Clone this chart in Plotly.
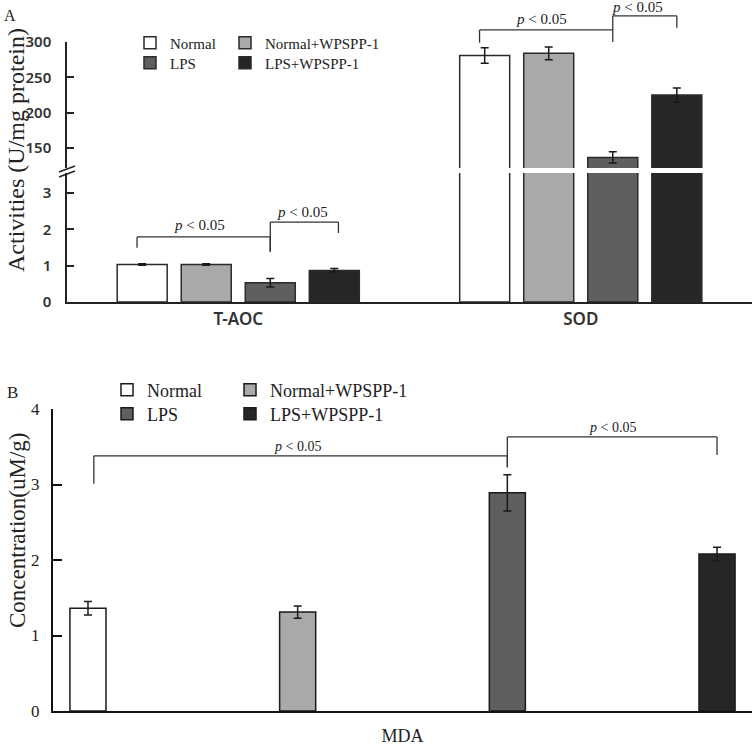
import plotly.graph_objects as go

# ---------------- data ----------------
groups = ["Normal", "Normal+WPSPP-1", "LPS", "LPS+WPSPP-1"]

a_categories = ["T-AOC", "SOD"]
a_normal = [1.03, 281]
a_normal_wpspp = [1.03, 284]
a_lps = [0.53, 137]
a_lps_wpspp = [0.87, 225]
a_err_normal = [0.02, 11]
a_err_normal_wpspp = [0.02, 9]
a_err_lps = [0.12, 8]
a_err_lps_wpspp = [0.05, 10]

b_categories = ["MDA"]
b_normal = [1.36]
b_normal_wpspp = [1.31]
b_lps = [2.89]
b_lps_wpspp = [2.08]
b_err_normal = [0.09]
b_err_normal_wpspp = [0.08]
b_err_lps = [0.24]
b_err_lps_wpspp = [0.09]

a_ticks_lower = [0, 1, 2, 3]
a_ticks_upper = [150, 200, 250, 300]
b_ticks = [0, 1, 2, 3, 4]

# ---------------- style / layout helpers ----------------
W, H = 756, 746
def px(x):
    return x / W
def py(y):
    return 1 - y / H

colors = ["#ffffff", "#a9a9a9", "#5f5f5f", "#262626"]
edge = "#2b2b2b"
serif = "Liberation Serif, Times New Roman, serif"
sans = "Noto Sans, Open Sans, sans-serif"

a_vals = [a_normal, a_normal_wpspp, a_lps, a_lps_wpspp]
a_errs = [a_err_normal, a_err_normal_wpspp, a_err_lps, a_err_lps_wpspp]
b_vals = [b_normal, b_normal_wpspp, b_lps, b_lps_wpspp]
b_errs = [b_err_normal, b_err_normal_wpspp, b_err_lps, b_err_lps_wpspp]

# bar geometry (category units)
a_slot, a_width = 0.187, 0.146
a_centers = [(i - 1.5) * a_slot for i in range(4)]
b_slot, b_width = 0.25, 0.043
b_centers = [(i - 1.5) * b_slot for i in range(4)]

A_LOW_RANGE = [0, 3.55]
A_UP_RANGE = [122, 300]
B_RANGE = [0, 4]

fig = go.Figure()

for i, g in enumerate(groups):
    common = dict(
        name=g,
        width=a_width,
        offset=a_centers[i] - a_width / 2,
        marker=dict(color=colors[i], line=dict(color=edge, width=1.5)),
        error_y=dict(type="data", array=a_errs[i], color="#1a1a1a", thickness=1.5, width=4),
        hoverinfo="skip",
    )
    fig.add_trace(go.Bar(x=a_categories, y=a_vals[i], xaxis="x", yaxis="y",
                         legend="legend" if i == 0 else f"legend{i+1}", **common))
    fig.add_trace(go.Bar(x=a_categories, y=a_vals[i], xaxis="x", yaxis="y2",
                         showlegend=False, **common))

for i, g in enumerate(groups):
    fig.add_trace(go.Bar(
        x=b_categories, y=b_vals[i], name=g,
        width=b_width, offset=b_centers[i] - b_width / 2,
        marker=dict(color=colors[i], line=dict(color="#1a1a1a", width=1.5)),
        error_y=dict(type="data", array=b_errs[i], color="#1a1a1a", thickness=1.5, width=4),
        xaxis="x3", yaxis="y3", legend=f"legend{i+5}", hoverinfo="skip",
    ))

axis_common = dict(showgrid=False, zeroline=False, showline=True, fixedrange=True, automargin=False)

fig.update_layout(
    width=W, height=H,
    margin=dict(l=0, r=0, t=0, b=0, autoexpand=False),
    paper_bgcolor="white", plot_bgcolor="white",
    barmode="group",
    showlegend=True,
    xaxis=dict(domain=[px(67), px(752)], anchor="y", range=[-0.5, 1.5],
               linecolor="#222", linewidth=1.5, ticks="", ticklabelstandoff=1,
               tickfont=dict(family=sans, size=17, color="#333", weight=600),
               **axis_common),
    yaxis=dict(domain=[py(302), py(173)], anchor="x", range=A_LOW_RANGE,
               tickvals=a_ticks_lower, ticks="inside", ticklen=7, tickwidth=1.5,
               tickcolor="#222", linecolor="#222", linewidth=1.5, ticklabelstandoff=11,
               tickfont=dict(family=sans, size=15, color="#333", weight=600),
               **axis_common),
    yaxis2=dict(domain=[py(168), py(42)], anchor="x", range=A_UP_RANGE,
                tickvals=a_ticks_upper, ticks="inside", ticklen=7, tickwidth=1.5,
                tickcolor="#222", linecolor="#222", linewidth=1.5, ticklabelstandoff=11,
                tickfont=dict(family=sans, size=15, color="#333", weight=600),
                **axis_common),
    xaxis3=dict(domain=[px(53), px(752)], anchor="y3", range=[-0.4167, 0.4167],
                linecolor="#111", linewidth=2, ticks="", ticklabelstandoff=7,
                tickfont=dict(family=serif, size=18, color="#222"),
                **axis_common),
    yaxis3=dict(domain=[py(711), py(409)], anchor="x3", range=B_RANGE,
                tickvals=b_ticks, ticks="inside", ticklen=9, tickwidth=2,
                tickcolor="#111", linecolor="#111", linewidth=2, ticklabelstandoff=8,
                tickfont=dict(family=serif, size=17, color="#222"),
                **axis_common),
)

# legends: one per entry, arranged as a 2x2 grid (positions = text start, row centre)
leg_a = [(170, 43), (265, 43), (170, 63), (265, 63)]
leg_b = [(147, 390), (270, 390), (147, 414), (270, 414)]
for i in range(4):
    key = "legend" if i == 0 else f"legend{i+1}"
    fig.update_layout({key: dict(x=px(leg_a[i][0] - 40), y=py(leg_a[i][1]), xanchor="left",
                                 yanchor="middle", bgcolor="rgba(0,0,0,0)", borderwidth=0,
                                 font=dict(family=serif, size=15, color="#222"))})
    fig.update_layout({f"legend{i+5}": dict(x=px(leg_b[i][0] - 40), y=py(leg_b[i][1]), xanchor="left",
                                            yanchor="middle", bgcolor="rgba(0,0,0,0)", borderwidth=0,
                                            font=dict(family=serif, size=18, color="#222"))})

line_style = dict(color="#333", width=1.3)

def up_dom(v):
    return (v - A_UP_RANGE[0]) / (A_UP_RANGE[1] - A_UP_RANGE[0])

def bracket(xref, yref, xl, xr, top, yl, yr, conv=lambda v: v):
    shapes = [
        dict(type="line", xref=xref, yref=yref, x0=xl, x1=xl, y0=conv(yl), y1=conv(top), line=line_style),
        dict(type="line", xref=xref, yref=yref, x0=xl, x1=xr, y0=conv(top), y1=conv(top), line=line_style),
        dict(type="line", xref=xref, yref=yref, x0=xr, x1=xr, y0=conv(top), y1=conv(yr), line=line_style),
    ]
    for s in shapes:
        fig.add_shape(**s)

# Panel A T-AOC brackets (category index 0)
bracket("x", "y", 0 + a_centers[0] - 0.015, 0 + a_centers[2], 1.79, 1.49, 1.38)
bracket("x", "y", 0 + a_centers[2], 0 + a_centers[3] + 0.012, 2.20, 1.38, 1.90)
# Panel A SOD brackets (category index 1), above the upper axis top
bracket("x", "y2 domain", 1 + a_centers[0] - 0.015, 1 + a_centers[2], 317, 299, 300, up_dom)
bracket("x", "y2 domain", 1 + a_centers[2], 1 + a_centers[3], 337, 317, 320, up_dom)
# Panel B brackets
bracket("x3", "y3", b_centers[0] + 0.007, b_centers[2], 3.38, 3.01, 3.23)
bracket("x3", "y3", b_centers[2], b_centers[3], 3.63, 3.23, 3.39)

ptxt = "<i>p</i> < 0.05"
ann = [
    dict(x=(a_centers[0] + a_centers[2]) / 2 - 0.02, y=2.12, xref="x", yref="y", size=15),
    dict(x=(a_centers[2] + a_centers[3]) / 2, y=2.48, xref="x", yref="y", size=15),
    dict(x=1 + (a_centers[0] + a_centers[2]) / 2 - 0.02, y=up_dom(332), xref="x", yref="y2 domain", size=15),
    dict(x=1 + (a_centers[2] + a_centers[3]) / 2 - 0.02, y=up_dom(349), xref="x", yref="y2 domain", size=15),
    dict(x=(b_centers[0] + b_centers[2]) / 2, y=3.50, xref="x3", yref="y3", size=14),
    dict(x=(b_centers[2] + b_centers[3]) / 2, y=3.75, xref="x3", yref="y3", size=14),
]
for a in ann:
    fig.add_annotation(x=a["x"], y=a["y"], xref=a["xref"], yref=a["yref"], text=ptxt,
                       xanchor="center", yanchor="middle",
                       showarrow=False, font=dict(family=serif, size=a["size"], color="#222"))

# y-axis titles
fig.add_annotation(x=px(16), y=py(150), xref="paper", yref="paper", text="Activities (U/mg protein)",
                   xanchor="center", yanchor="middle",
                   textangle=-90, showarrow=False, font=dict(family=serif, size=24, color="#222"))
fig.add_annotation(x=px(17), y=py(531), xref="paper", yref="paper", text="Concentration(uM/g)",
                   xanchor="center", yanchor="middle",
                   textangle=-90, showarrow=False, font=dict(family=serif, size=23, color="#222"))
# panel letters
fig.add_annotation(x=px(10), y=py(15), xref="paper", yref="paper", text="A", showarrow=False,
                   xanchor="center", yanchor="middle", font=dict(family=serif, size=16, color="#222"))
fig.add_annotation(x=px(12), y=py(392), xref="paper", yref="paper", text="B", showarrow=False,
                   xanchor="center", yanchor="middle", font=dict(family=serif, size=17, color="#222"))

# axis break marks
for dy in (0, 5):
    fig.add_shape(type="line", xref="paper", yref="paper",
                  x0=px(59), y0=py(172 + dy), x1=px(75), y1=py(166 + dy),
                  line=dict(color="#222", width=1.5))

# remove the default 8px page margin so the figure fills the window exactly
fig.write_html("out.html", config={"displayModeBar": False},
               post_script="document.body.style.margin='0px';")
